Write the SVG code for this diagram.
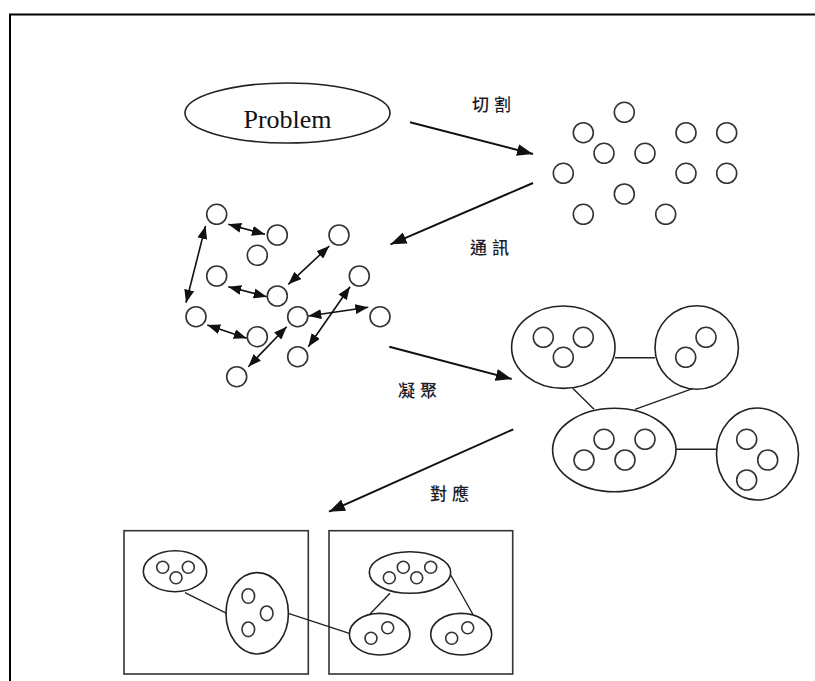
<svg xmlns="http://www.w3.org/2000/svg" width="815" height="681" viewBox="0 0 815 681">
  <style>
    .frame { fill: none; stroke: #000; stroke-width: 2; }
    .node { fill: none; stroke: #222; stroke-width: 1.6; }
    .dot { fill: none; stroke: #333; stroke-width: 1.6; }
    .box { fill: none; stroke: #333; stroke-width: 1.6; }
    .arrow { stroke: #111; stroke-width: 2; fill: none; }
    .dbl { stroke: #111; stroke-width: 1.6; fill: none; }
    .link { stroke: #222; stroke-width: 1.4; fill: none; }
    .label { font-family: "Noto Sans CJK TC", "Noto Sans CJK SC", sans-serif; font-size: 17px; font-weight: 500; fill: #1c1c2a; letter-spacing: 5px; }
    .title { font-family: "Liberation Serif", serif; font-size: 26px; fill: #111; }
  </style>
  <defs>
    <marker id="head" viewBox="0 0 16 12" refX="16" refY="6" markerWidth="16" markerHeight="12" markerUnits="userSpaceOnUse" orient="auto">
      <path d="M0,0 L16,6 L0,12 z" fill="#111"/>
    </marker>
    <marker id="tip" viewBox="0 0 13 10" refX="13" refY="5" markerWidth="13" markerHeight="10" markerUnits="userSpaceOnUse" orient="auto-start-reverse">
      <path d="M0,0 L13,5 L0,10 z" fill="#111"/>
    </marker>
  </defs>

  <!-- page frame (top and left edges) -->
  <path class="frame" d="M10,681 V14.5 H815"/>

  <!-- problem -->
  <g id="problem">
    <ellipse class="node" cx="287.5" cy="113" rx="102.5" ry="30"/>
    <text class="title" x="287.5" y="128" text-anchor="middle">Problem</text>
  </g>

  <!-- split pieces -->
  <g id="pieces">
    <circle class="dot" cx="624.3" cy="112.3" r="10"/>
    <circle class="dot" cx="583.3" cy="132.7" r="10"/>
    <circle class="dot" cx="686" cy="132.7" r="10"/>
    <circle class="dot" cx="726.7" cy="132.7" r="10"/>
    <circle class="dot" cx="604" cy="153.3" r="10"/>
    <circle class="dot" cx="645" cy="153.3" r="10"/>
    <circle class="dot" cx="563.3" cy="173.3" r="10"/>
    <circle class="dot" cx="686" cy="173.3" r="10"/>
    <circle class="dot" cx="726.7" cy="173.3" r="10"/>
    <circle class="dot" cx="624.3" cy="194" r="10"/>
    <circle class="dot" cx="583.3" cy="214.3" r="10"/>
    <circle class="dot" cx="665.7" cy="214.3" r="10"/>
  </g>

  <!-- communicating pieces -->
  <g id="communication">
    <circle class="dot" cx="216.7" cy="214.3" r="10"/>
    <circle class="dot" cx="277.3" cy="235" r="10"/>
    <circle class="dot" cx="257.3" cy="255.3" r="10"/>
    <circle class="dot" cx="339" cy="235" r="10"/>
    <circle class="dot" cx="216.7" cy="276" r="10"/>
    <circle class="dot" cx="277.3" cy="296" r="10"/>
    <circle class="dot" cx="359.3" cy="276" r="10"/>
    <circle class="dot" cx="196" cy="316.7" r="10"/>
    <circle class="dot" cx="297.7" cy="316.7" r="10"/>
    <circle class="dot" cx="380" cy="316.7" r="10"/>
    <circle class="dot" cx="257.3" cy="336.7" r="10"/>
    <circle class="dot" cx="297.7" cy="356.7" r="10"/>
    <circle class="dot" cx="236.7" cy="376.7" r="10"/>
  </g>

  <!-- clustered groups -->
  <g id="cluster-1">
    <ellipse class="node" cx="563.3" cy="347.2" rx="51.7" ry="41.2"/>
    <circle class="dot" cx="543.3" cy="337.3" r="10"/>
    <circle class="dot" cx="583.3" cy="337.3" r="10"/>
    <circle class="dot" cx="563.3" cy="357.3" r="10"/>
  </g>
  <g id="cluster-2">
    <ellipse class="node" cx="696.7" cy="347.5" rx="41.7" ry="41.7"/>
    <circle class="dot" cx="706" cy="337.3" r="10"/>
    <circle class="dot" cx="685.7" cy="357.3" r="10"/>
  </g>
  <g id="cluster-3">
    <ellipse class="node" cx="614.3" cy="450" rx="61.7" ry="41.7"/>
    <circle class="dot" cx="604" cy="439.3" r="10"/>
    <circle class="dot" cx="645" cy="439.3" r="10"/>
    <circle class="dot" cx="584" cy="460" r="10"/>
    <circle class="dot" cx="625" cy="460" r="10"/>
  </g>
  <g id="cluster-4">
    <ellipse class="node" cx="757.5" cy="454" rx="41" ry="46"/>
    <circle class="dot" cx="746.7" cy="439.3" r="10"/>
    <circle class="dot" cx="767.7" cy="460" r="10"/>
    <circle class="dot" cx="746.7" cy="480" r="10"/>
  </g>

  <!-- processor boxes -->
  <g id="processor-1">
    <rect class="box" x="124" y="530.7" width="184.3" height="143.3"/>
    <ellipse class="node" cx="175" cy="571.2" rx="31.7" ry="20.5"/>
    <circle class="dot" cx="162.7" cy="567.3" r="6"/>
    <circle class="dot" cx="188.3" cy="567.3" r="6"/>
    <circle class="dot" cx="176" cy="577.7" r="6"/>
    <ellipse class="node" cx="257.2" cy="613.3" rx="31.2" ry="40.7"/>
    <ellipse class="dot" cx="248.3" cy="596" rx="6.3" ry="7.3"/>
    <ellipse class="dot" cx="266.7" cy="613.3" rx="6.3" ry="7.3"/>
    <ellipse class="dot" cx="248.3" cy="629.3" rx="6.3" ry="7.3"/>
  </g>
  <g id="processor-2">
    <rect class="box" x="329" y="530.7" width="183.7" height="143.3"/>
    <ellipse class="node" cx="410" cy="572.5" rx="40.7" ry="20.8"/>
    <circle class="dot" cx="403.3" cy="567.3" r="6"/>
    <circle class="dot" cx="430.7" cy="567.3" r="6"/>
    <circle class="dot" cx="389.3" cy="577.7" r="6"/>
    <circle class="dot" cx="416.7" cy="577.7" r="6"/>
    <ellipse class="node" cx="379.7" cy="634.2" rx="30.3" ry="20.8"/>
    <circle class="dot" cx="387.7" cy="627.7" r="6"/>
    <circle class="dot" cx="371" cy="638.3" r="6"/>
    <ellipse class="node" cx="461.2" cy="634.2" rx="30.5" ry="20.8"/>
    <circle class="dot" cx="467.7" cy="627.7" r="6"/>
    <circle class="dot" cx="451.7" cy="638.3" r="6"/>
  </g>

  <!-- step labels -->
  <g id="labels">
    <text class="label" x="472" y="111">切割</text>
    <text class="label" x="470" y="254">通訊</text>
    <text class="label" x="398" y="397">凝聚</text>
    <text class="label" x="430" y="500">對應</text>
  </g>

  <!-- connectors -->
  <g id="connectors">
    <!-- process arrows -->
    <line class="arrow" x1="410" y1="122.3" x2="533" y2="154" marker-end="url(#head)"/>
    <line class="arrow" x1="533" y1="183" x2="390.5" y2="244.3" marker-end="url(#head)"/>
    <line class="arrow" x1="389.3" y1="346.7" x2="511.7" y2="379" marker-end="url(#head)"/>
    <line class="arrow" x1="513.3" y1="429.3" x2="329" y2="511.7" marker-end="url(#head)"/>

    <!-- two-way messages -->
    <line class="dbl" x1="228.3" y1="224.3" x2="265" y2="234.3" marker-start="url(#tip)" marker-end="url(#tip)"/>
    <line class="dbl" x1="205.5" y1="226" x2="186" y2="302.7" marker-start="url(#tip)" marker-end="url(#tip)"/>
    <line class="dbl" x1="228.3" y1="286.7" x2="266.7" y2="296.7" marker-start="url(#tip)" marker-end="url(#tip)"/>
    <line class="dbl" x1="288.3" y1="284.3" x2="329.3" y2="246" marker-start="url(#tip)" marker-end="url(#tip)"/>
    <line class="dbl" x1="207.3" y1="325" x2="246.7" y2="338.3" marker-start="url(#tip)" marker-end="url(#tip)"/>
    <line class="dbl" x1="248.3" y1="366.7" x2="286.7" y2="326.7" marker-start="url(#tip)" marker-end="url(#tip)"/>
    <line class="dbl" x1="308.3" y1="316" x2="368.3" y2="307.3" marker-start="url(#tip)" marker-end="url(#tip)"/>
    <line class="dbl" x1="350" y1="286.7" x2="308.3" y2="346.7" marker-start="url(#tip)" marker-end="url(#tip)"/>

    <!-- cluster links -->
    <line class="link" x1="615" y1="357.7" x2="655" y2="357.7"/>
    <line class="link" x1="572.7" y1="388.3" x2="594" y2="409.3"/>
    <line class="link" x1="693.3" y1="388.3" x2="635" y2="409.3"/>
    <line class="link" x1="676" y1="449.3" x2="716.7" y2="449.3"/>

    <!-- mapped links -->
    <line class="link" x1="185" y1="592.7" x2="226.7" y2="613.3"/>
    <line class="link" x1="288.3" y1="613.3" x2="349.3" y2="633.3"/>
    <line class="link" x1="390" y1="593.3" x2="370" y2="614"/>
    <line class="link" x1="450.7" y1="575" x2="472.7" y2="614"/>
  </g>
</svg>
